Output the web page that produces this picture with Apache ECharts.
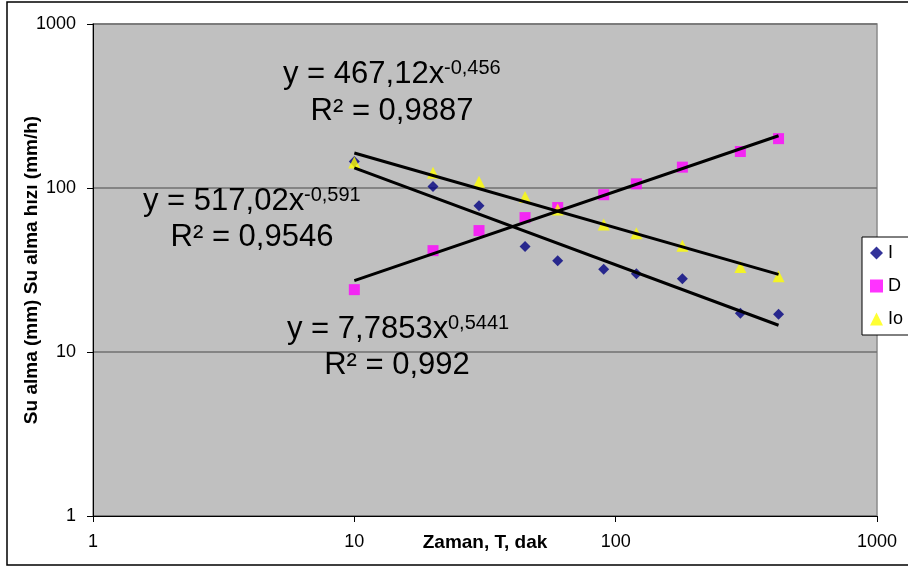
<!DOCTYPE html>
<html>
<head>
<meta charset="utf-8">
<script src="https://cdn.jsdelivr.net/npm/echarts@6/dist/echarts.min.js"></script>
<style>
  html, body { margin: 0; padding: 0; background: #fff; }
  #chart { width: 908px; height: 570px; }
</style>
</head>
<body>
<div id="chart"></div>
<script>
// Zaman (dak)
const times = [10, 20, 30, 45, 60, 90, 120, 180, 300, 420];

// series values
const seriesNames = ['I', 'D', 'Io'];
const valuesI = [145, 102, 78, 44, 36, 32, 30, 28, 17.2, 17];
const valuesD = [24, 41.5, 55, 66, 76, 91, 106, 134, 167, 200];
const valuesIo = [143, 124, 109, 88, 74, 60, 53, 44.5, 33, 29];

// power trend lines y = a * x^b (I, D, Io)
const trendA = [517.02, 7.7853, 467.12];
const trendB = [-0.591, 0.5441, -0.456];

const axisTicks = [1, 10, 100, 1000];

const FONT = 'Arial, "Liberation Sans", sans-serif';

const toPairs = (vals) => times.map((t, i) => [t, vals[i]]);

function trendData(k) {
  const ends = [times[0], times[times.length - 1]];
  return ends.map((t) => [t, trendA[k] * Math.pow(t, trendB[k])]);
}

const chart = echarts.init(document.getElementById('chart'));

// equation labels: main text, superscript, R² line
function eqText(x, y, text, size, align) {
  return {
    type: 'text',
    silent: true,
    z: 100,
    style: {
      x: x, y: y, text: text,
      font: size + 'px ' + FONT,
      fill: '#000',
      align: align || 'left',
      verticalAlign: 'middle'
    }
  };
}

const tickLabel = {
  fontFamily: FONT, fontSize: 18, color: '#000', margin: 17,
  formatter: (v) => String(v)
};

const option = {
  animation: false,
  backgroundColor: '#fff',
  grid: {
    left: 93, right: 31, top: 24, bottom: 54,
    containLabel: false,
    outerBoundsMode: 'none',
    show: true,
    backgroundColor: '#c0c0c0',
    borderColor: '#8a8a8a',
    borderWidth: 1.5
  },
  legend: {
    data: seriesNames,
    orient: 'vertical',
    left: 862,
    top: 237,
    padding: [7, 40, 7, 8],
    itemGap: 15,
    itemWidth: 13,
    itemHeight: 13,
    backgroundColor: '#fff',
    borderColor: '#000',
    borderWidth: 1,
    textStyle: { fontFamily: FONT, fontSize: 18, color: '#000' }
  },
  xAxis: {
    type: 'log',
    logBase: 10,
    min: axisTicks[0],
    max: axisTicks[axisTicks.length - 1],
    name: 'Zaman, T, dak',
    nameLocation: 'middle',
    nameGap: 17,
    nameMoveOverlap: false,
    nameTextStyle: { fontFamily: FONT, fontSize: 19, fontWeight: 'bold', color: '#000' },
    axisLine: { show: true, lineStyle: { color: '#000', width: 1 } },
    axisTick: { show: true, length: 6, lineStyle: { color: '#000' } },
    minorTick: { show: false },
    axisLabel: tickLabel,
    splitLine: { show: false }
  },
  yAxis: {
    type: 'log',
    logBase: 10,
    min: axisTicks[0],
    max: axisTicks[axisTicks.length - 1],
    name: 'Su alma (mm) Su alma hızı (mm/h)',
    nameLocation: 'middle',
    nameGap: 52,
    nameRotate: 90,
    nameMoveOverlap: false,
    nameTextStyle: { fontFamily: FONT, fontSize: 19, fontWeight: 'bold', color: '#000' },
    axisLine: { show: true, lineStyle: { color: '#000', width: 1 } },
    axisTick: { show: true, length: 6, lineStyle: { color: '#000' } },
    axisLabel: tickLabel,
    splitLine: { show: true, lineStyle: { color: '#707070', width: 1.5 } }
  },
  series: [
    {
      name: 'I', type: 'scatter', symbol: 'diamond', symbolSize: 11,
      itemStyle: { color: '#000080' },
      data: toPairs(valuesI)
    },
    {
      name: 'D', type: 'scatter', symbol: 'rect', symbolSize: 11,
      itemStyle: { color: '#ff00ff' },
      data: toPairs(valuesD)
    },
    {
      name: 'Io', type: 'scatter', symbol: 'triangle', symbolSize: 12,
      itemStyle: { color: '#ffff00' },
      data: toPairs(valuesIo)
    }
  ].concat(trendA.map((a, k) => ({
    name: 'trend ' + seriesNames[k],
    type: 'line',
    z: 5,
    silent: true,
    symbol: 'none',
    lineStyle: { color: '#000', width: 3 },
    data: trendData(k)
  }))),
  graphic: [
    // chart area frame
    {
      type: 'rect', silent: true, z: -1,
      shape: { x: 7, y: 2, width: 940, height: 563 },
      style: { fill: 'none', stroke: '#000', lineWidth: 1.5 }
    },
    eqText(283, 74, 'y = 467,12x', 31),
    eqText(444, 68, '-0,456', 20),
    eqText(392, 111, 'R² = 0,9887', 31, 'center'),
    eqText(143, 201, 'y = 517,02x', 31),
    eqText(304, 195, '-0,591', 20),
    eqText(252, 237, 'R² = 0,9546', 31, 'center'),
    eqText(287, 329, 'y = 7,7853x', 31),
    eqText(448, 323, '0,5441', 20),
    eqText(397, 365, 'R² = 0,992', 31, 'center')
  ]
};

chart.setOption(option);
</script>
</body>
</html>
